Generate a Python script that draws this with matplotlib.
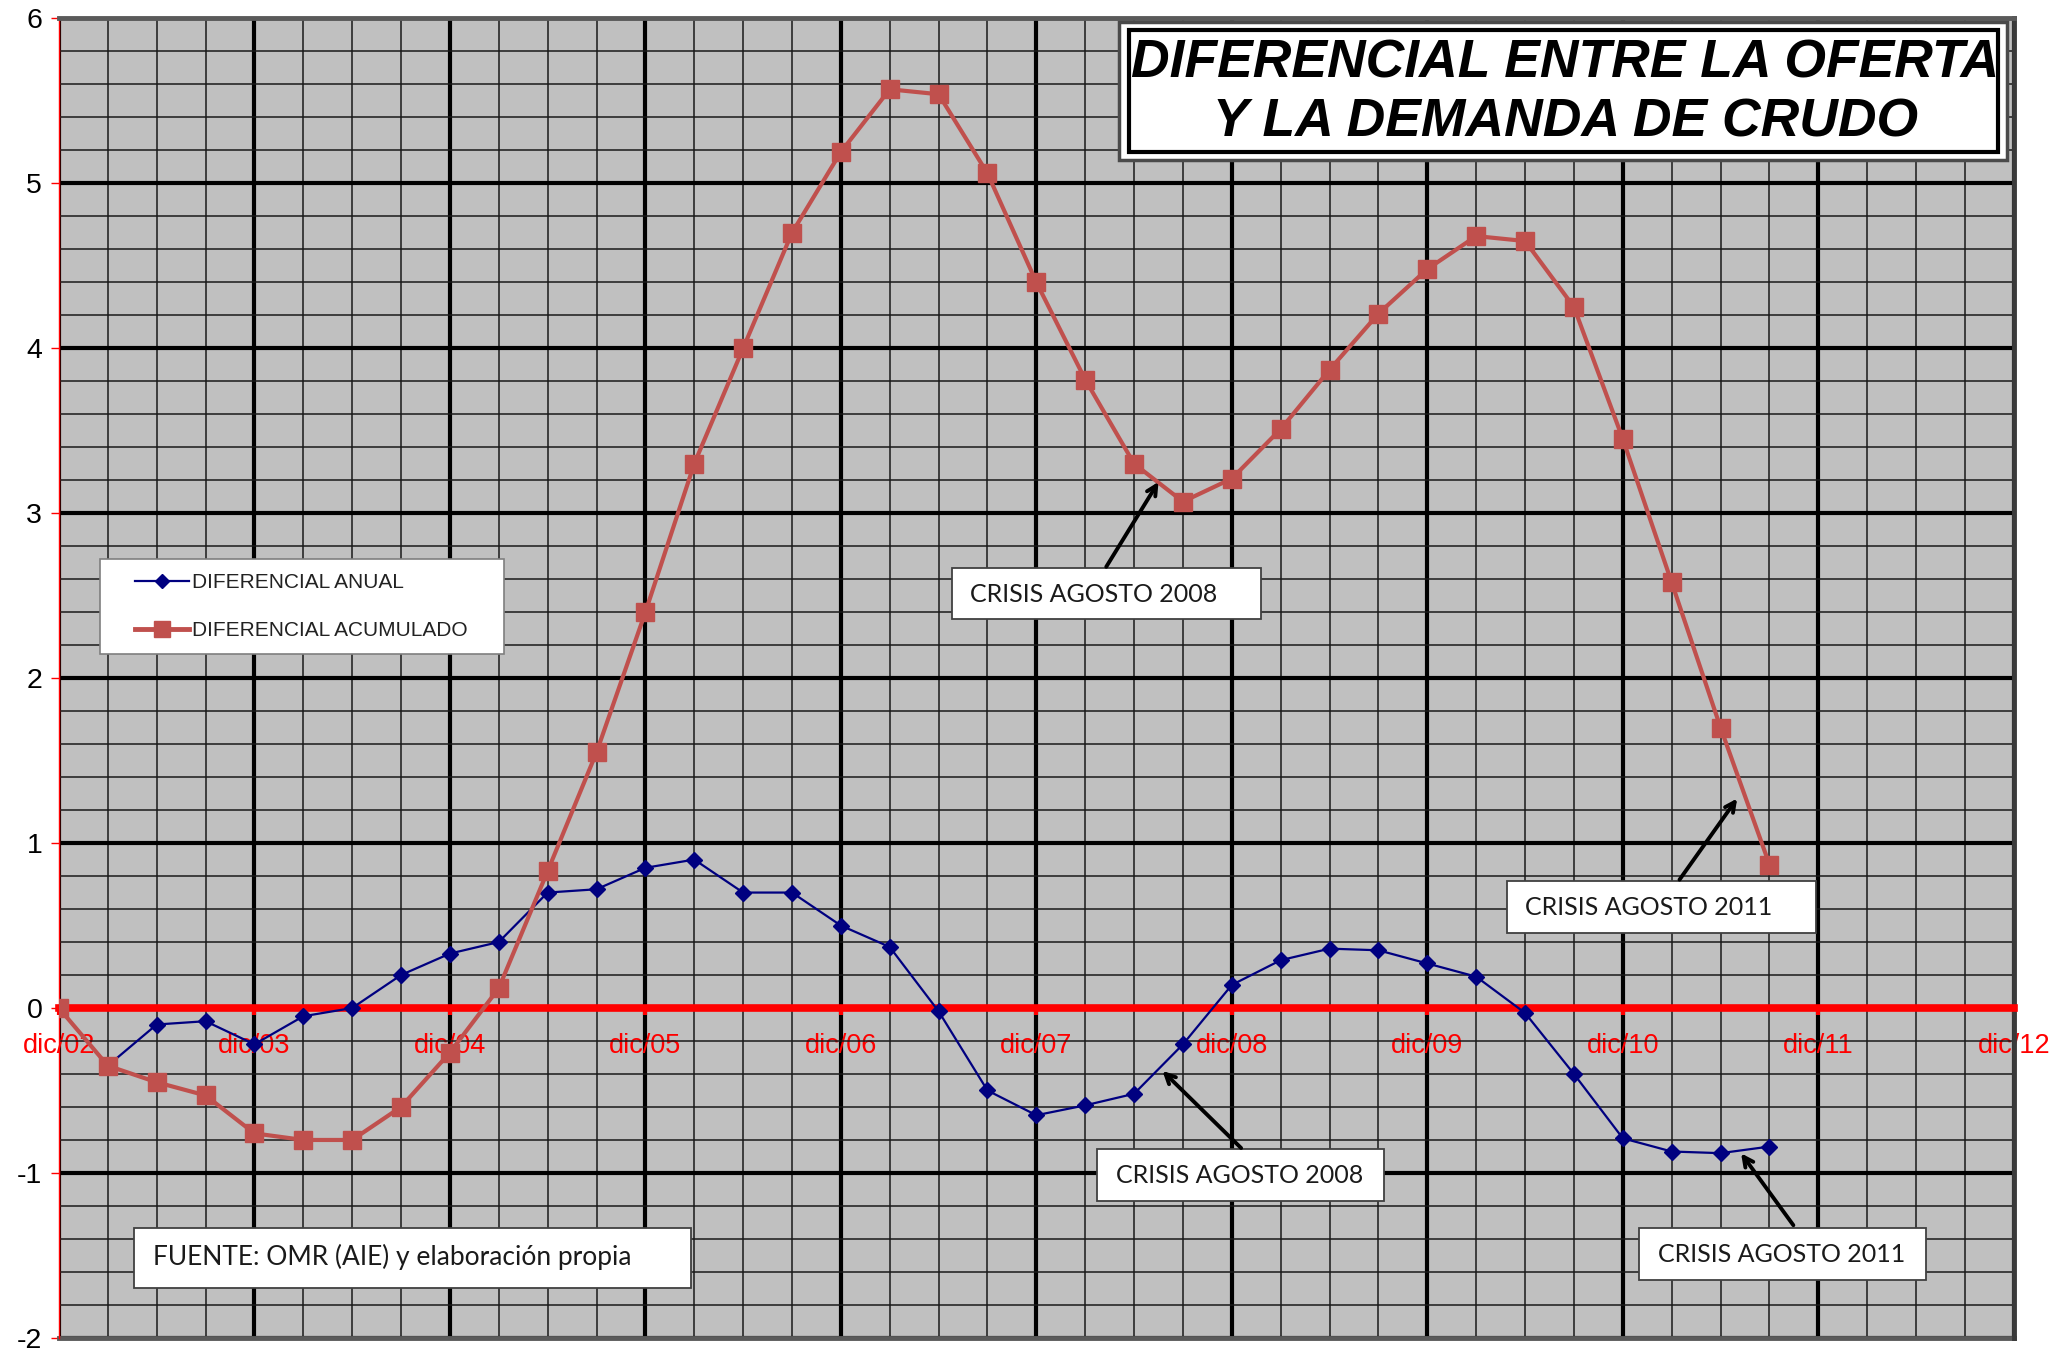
import matplotlib
matplotlib.use("Agg")
import matplotlib.pyplot as plt
import numpy as np
from matplotlib.patches import Rectangle
from matplotlib.lines import Line2D
from matplotlib import font_manager as fm
from matplotlib.ticker import MultipleLocator

# Diferencial trimestral oferta - demanda de crudo (mb/d), dic/02 .. sep/11
anual = [0.00, -0.35, -0.10, -0.08, -0.22, -0.05, 0.00, 0.20, 0.33, 0.40,
         0.70, 0.72, 0.85, 0.90, 0.70, 0.70, 0.50, 0.37, -0.02, -0.50,
         -0.65, -0.59, -0.52, -0.22, 0.14, 0.29, 0.36, 0.35, 0.27, 0.19,
         -0.03, -0.40, -0.79, -0.87, -0.88, -0.84]
acumulado = [0.00, -0.35, -0.45, -0.53, -0.76, -0.80, -0.80, -0.60, -0.27, 0.12,
             0.83, 1.55, 2.40, 3.30, 4.00, 4.70, 5.19, 5.57, 5.54, 5.06,
             4.40, 3.81, 3.30, 3.07, 3.21, 3.51, 3.87, 4.21, 4.48, 4.68,
             4.65, 4.25, 3.45, 2.58, 1.70, 0.87]
etiquetas_anio = ["dic/02", "dic/03", "dic/04", "dic/05", "dic/06", "dic/07",
                  "dic/08", "dic/09", "dic/10", "dic/11", "dic/12"]
serie_nombres = ["DIFERENCIAL ANUAL", "DIFERENCIAL ACUMULADO"]

installed = {f.name for f in fm.fontManager.ttflist}
sans = "Liberation Sans"
caja = "Lato" if "Lato" in installed else sans
plt.rcParams["font.family"] = [sans, "DejaVu Sans"]

fig = plt.figure(figsize=(20.53, 13.51), dpi=100)
ax = fig.add_axes([0.0287, 0.0097, 0.9522, 0.9767])
ax.set_facecolor("#C0C0C0")

x = np.arange(len(anual))
ax.set_xlim(0, 40)
ax.set_ylim(-2, 6)

# grid: years / quarters and units / fifths
ax.xaxis.set_major_locator(MultipleLocator(4))
ax.xaxis.set_minor_locator(MultipleLocator(1))
ax.yaxis.set_major_locator(MultipleLocator(1))
ax.yaxis.set_minor_locator(MultipleLocator(0.2))
ax.set_axisbelow(True)
ax.grid(which="major", color="black", lw=3.0)
ax.grid(which="minor", color="#1a1a1a", lw=1.1)

ax.set_xticks(np.arange(0, 41, 4))
ax.set_xticklabels(etiquetas_anio)
ax.set_yticks(np.arange(-2, 7, 1))
ax.set_yticklabels([str(v) for v in range(-2, 7)])

ax.spines["bottom"].set_position(("data", 0))
ax.spines["bottom"].set_color("#FF0000")
ax.spines["bottom"].set_linewidth(5.5)
ax.spines["bottom"].set_zorder(2.6)
ax.spines["left"].set_color("#FF0000")
ax.spines["left"].set_linewidth(1.0)
ax.spines["top"].set_color("#5a5a5a")
ax.spines["top"].set_linewidth(3.5)
ax.spines["right"].set_color("#3a3a3a")
ax.spines["right"].set_linewidth(3.5)
ax.axhline(-2, color="#5a5a5a", lw=3.5, zorder=2.5, clip_on=False)

ax.tick_params(axis="x", which="major", colors="#FF0000", length=5, width=3,
               direction="out", pad=13, labelsize=19.5, labelcolor="#FF0000")
ax.tick_params(axis="y", which="major", colors="#FF0000", length=6, width=1,
               direction="out", pad=6, labelsize=20.5, labelcolor="black")
ax.tick_params(which="minor", length=0)

ax.plot(x, anual, color="#000080", lw=1.6, marker="D", ms=8.5,
        markerfacecolor="#000080", markeredgecolor="#000080", zorder=3)
ax.plot(x, acumulado, color="#C0504D", lw=3.0, marker="s", ms=13,
        markerfacecolor="#C0504D", markeredgecolor="#C0504D", zorder=4)

# title box
ax.add_patch(Rectangle((0.5425, 0.893), 0.4541, 0.104, transform=ax.transAxes,
                       facecolor="white", edgecolor="#4a4a4a", lw=2.5, zorder=6))
ax.add_patch(Rectangle((0.5472, 0.899), 0.4447, 0.092, transform=ax.transAxes,
                       facecolor="white", edgecolor="black", lw=3.0, zorder=6))
for texto, yy in (("DIFERENCIAL ENTRE LA OFERTA", 0.966), ("Y LA DEMANDA DE CRUDO", 0.921)):
    ax.text(0.7705, yy, texto, transform=ax.transAxes, ha="center", va="center",
            fontsize=38.5, fontweight="bold", fontstyle="italic", zorder=7)

# legend
ax.add_patch(Rectangle((0.0208, 0.518), 0.2069, 0.072, transform=ax.transAxes,
                       facecolor="white", edgecolor="#7f7f7f", lw=1.2, zorder=6))
handles = [Line2D([], [], color="#000080", lw=1.6, marker="D", ms=7),
           Line2D([], [], color="#C0504D", lw=3.5, marker="s", ms=11)]
leg = ax.legend(handles, serie_nombres, loc="center left", bbox_to_anchor=(0.039, 0.554),
                frameon=False, fontsize=15, handlelength=2.6, handletextpad=0.12,
                labelspacing=1.4, borderpad=0, borderaxespad=0)
leg.set_zorder(7)
for t in leg.get_texts():
    t.set_color("#222222")

# annotation boxes
def caja_texto(x0, y0, x1, y1, tx, ty, texto, size):
    ax.add_patch(Rectangle((x0, y0), x1 - x0, y1 - y0, facecolor="white",
                           edgecolor="#404040", lw=1.3, zorder=6))
    ax.text(tx, ty, texto, ha="left", va="center", fontsize=size,
            family=[caja, sans], color="#1a1a1a", zorder=7)

def flecha(tail, tip):
    ax.annotate("", xy=tip, xytext=tail,
                arrowprops=dict(arrowstyle="->,head_length=0.7,head_width=0.35",
                                color="black", lw=2.8, shrinkA=0, shrinkB=0),
                zorder=7)

caja_texto(18.27, 2.357, 24.59, 2.667, 18.64, 2.508, "CRISIS AGOSTO 2008", 18)
flecha((21.43, 2.675), (22.5, 3.19))
caja_texto(21.24, -1.167, 27.11, -0.857, 21.62, -1.016, "CRISIS AGOSTO 2008", 18)
flecha((24.19, -0.849), (22.58, -0.381))
caja_texto(29.63, 0.452, 35.95, 0.770, 30.0, 0.611, "CRISIS AGOSTO 2011", 18)
flecha((33.16, 0.778), (34.34, 1.27))
caja_texto(32.33, -1.651, 38.20, -1.333, 32.71, -1.492, "CRISIS AGOSTO 2011", 18)
flecha((35.49, -1.317), (34.42, -0.881))
caja_texto(1.53, -1.698, 12.94, -1.333, 1.93, -1.51,
           "FUENTE: OMR (AIE) y elaboración propia", 19)

fig.savefig("out.png", dpi=100, facecolor="white")
